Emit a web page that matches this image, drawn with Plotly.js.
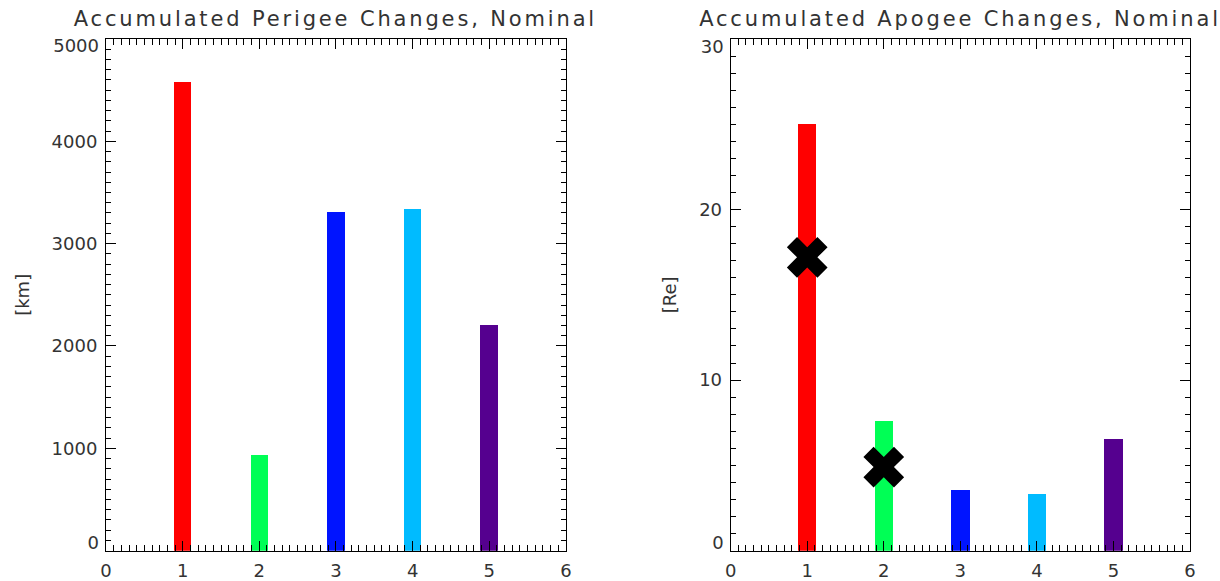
<!DOCTYPE html>
<html>
<head>
<meta charset="utf-8">
<script src="https://cdn.plot.ly/plotly-3.0.1.min.js"></script>
<style>
html, body { margin: 0; padding: 0; background: #fff; }
#chart { width: 1220px; height: 581px; }
#chart .annotation-text { letter-spacing: 2.85px; }
</style>
</head>
<body>
<div id="chart"></div>
<script>
// ---- data ----
var categories = [1, 2, 3, 4, 5];
var barColors = ['#ff0000', '#00ff55', '#0014ff', '#00bbff', '#55008f'];
var perigeeChange = [4580, 938, 3310, 3336, 2202];     // [km]
var apogeeChange = [25.0, 7.6, 3.54, 3.32, 6.55];      // [Re]
var markerX = [1, 2];
var markerY = [17.2, 4.9];                             // [Re]
var perigeeTicks = [0, 1000, 2000, 3000, 4000, 5000];
var apogeeTicks = [0, 10, 20, 30];
var perigeeTitle = 'Accumulated Perigee Changes, Nominal';
var apogeeTitle = 'Accumulated Apogee Changes, Nominal';
var perigeeUnit = '[km]';
var apogeeUnit = '[Re]';

var FONT = 'DejaVu Sans, sans-serif';
var TXT = '#333333';

function holder(xa, ya) {
  return {type: 'scatter', mode: 'markers', x: [null], y: [null], xaxis: xa, yaxis: ya,
          hoverinfo: 'skip', showlegend: false, marker: {opacity: 0}};
}

var traces = [
  {type: 'bar', x: categories, y: perigeeChange, width: 0.23,
   marker: {color: barColors, line: {width: 0}}, xaxis: 'x', yaxis: 'y',
   hoverinfo: 'x+y', showlegend: false},
  {type: 'bar', x: categories, y: apogeeChange, width: 0.24,
   marker: {color: barColors, line: {width: 0}}, xaxis: 'x2', yaxis: 'y2',
   hoverinfo: 'x+y', showlegend: false},
  {type: 'scatter', mode: 'markers', x: markerX, y: markerY,
   marker: {symbol: 'x', size: 36, color: '#000000', line: {width: 0}},
   xaxis: 'x2', yaxis: 'y2', showlegend: false},
  holder('x', 'y3'), holder('x', 'y4'), holder('x2', 'y5'), holder('x2', 'y6')
];

function xAxis(domain, anchor) {
  return {
    domain: domain, anchor: anchor, range: [0, 6], dtick: 1, tick0: 0,
    ticks: 'inside', ticklen: 10, tickwidth: 1, tickcolor: '#000',
    minor: {dtick: 0.1, tick0: 0, ticks: 'inside', ticklen: 6, tickwidth: 1, tickcolor: '#000'},
    showline: true, linecolor: '#000', linewidth: 1, mirror: 'ticks',
    showgrid: false, zeroline: false, fixedrange: true,
    tickfont: {family: FONT, size: 18, color: TXT}, ticklabelstandoff: 4
  };
}
function yAxis(domain, anchor, rng, ticks, mdt, unit) {
  var txt = ticks.map(function (v, i) { return (i === 0 || i === ticks.length - 1) ? '' : String(v); });
  return {
    domain: domain, anchor: anchor, range: rng, tickmode: 'array',
    tickvals: ticks, ticktext: txt,
    ticks: 'inside', ticklen: 10, tickwidth: 1, tickcolor: '#000',
    minor: {dtick: mdt, tick0: 0, ticks: 'inside', ticklen: 5, tickwidth: 1, tickcolor: '#000'},
    showline: true, linecolor: '#000', linewidth: 1, mirror: 'ticks',
    showgrid: false, zeroline: false, fixedrange: true,
    tickfont: {family: FONT, size: 18, color: TXT}, ticklabelstandoff: 4,
    title: {text: unit, font: {family: FONT, size: 18, color: TXT}, standoff: 17}
  };
}
// overlay axis carrying only an end label, nudged along the axis like the original
function endLabelAxis(domain, over, anchor, rng, val, shift) {
  return {
    domain: domain, overlaying: over, anchor: anchor, side: 'left', range: rng,
    tickmode: 'array', tickvals: [val], ticktext: [String(val)],
    ticks: '', showline: false, showgrid: false, zeroline: false, fixedrange: true,
    tickfont: {family: FONT, size: 18, color: TXT}, ticklabelstandoff: 6,
    ticklabelshift: shift
  };
}

var yDom = [0.0522, 0.9329];
var pRange = [0, 5000], aRange = [0, 30];
var layout = {
  width: 1220, height: 581,
  margin: {l: 0, r: 0, t: 0, b: 0, autoexpand: false},
  paper_bgcolor: '#ffffff', plot_bgcolor: '#ffffff',
  showlegend: false, bargap: 0,
  xaxis: xAxis([0.0869, 0.4639], 'y'),
  yaxis: yAxis(yDom, 'x', pRange, perigeeTicks, 100, perigeeUnit),
  xaxis2: xAxis([0.5989, 0.9754], 'y2'),
  yaxis2: yAxis(yDom, 'x2', aRange, apogeeTicks, 1, apogeeUnit),
  yaxis3: endLabelAxis(yDom, 'y', 'x', pRange, perigeeTicks[0], -8),
  yaxis4: endLabelAxis(yDom, 'y', 'x', pRange, perigeeTicks[perigeeTicks.length - 1], 7),
  yaxis5: endLabelAxis(yDom, 'y2', 'x2', aRange, apogeeTicks[0], -8),
  yaxis6: endLabelAxis(yDom, 'y2', 'x2', aRange, apogeeTicks[apogeeTicks.length - 1], 8),
  annotations: [
    {text: perigeeTitle, xref: 'paper', yref: 'paper', x: (0.0869 + 0.4639) / 2, y: 1 - 19 / 581,
     xanchor: 'center', yanchor: 'middle', showarrow: false,
     font: {family: FONT, size: 21, color: TXT}},
    {text: apogeeTitle, xref: 'paper', yref: 'paper', x: (0.5989 + 0.9754) / 2, y: 1 - 19 / 581,
     xanchor: 'center', yanchor: 'middle', showarrow: false,
     font: {family: FONT, size: 21, color: TXT}}
  ]
};

Plotly.newPlot('chart', traces, layout, {displayModeBar: false, staticPlot: true});
</script>
</body>
</html>
